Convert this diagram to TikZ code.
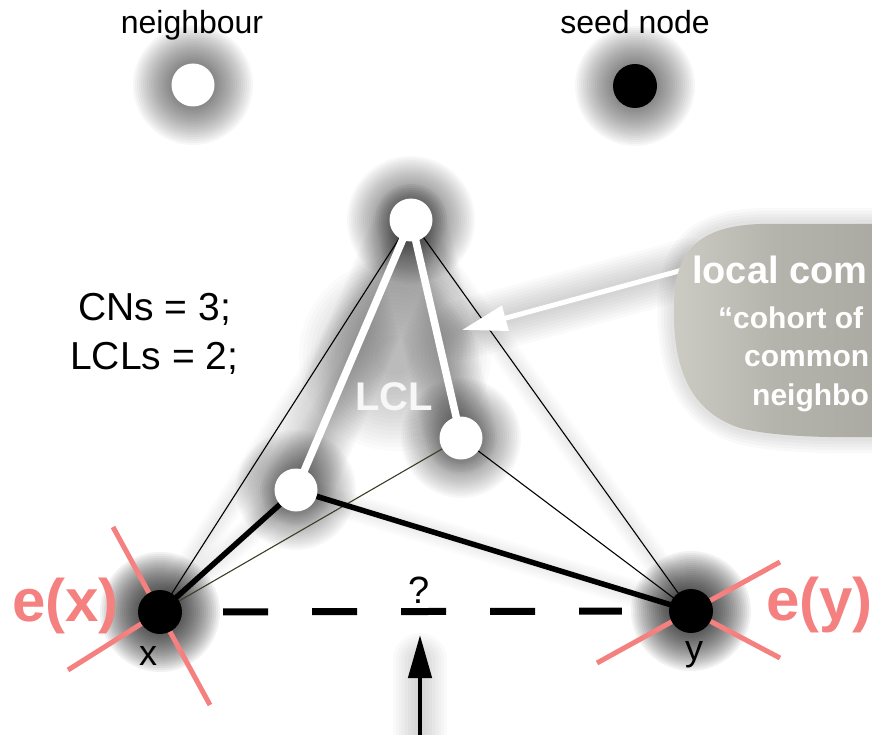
\documentclass[tikz,border=0pt]{standalone}
\usepackage{fontspec}
\setmainfont{Liberation Sans}
\usetikzlibrary{arrows.meta}

\definecolor{crossred}{RGB}{244,128,128}
\definecolor{bubblelight}{RGB}{204,204,196}
\definecolor{bubblemid}{RGB}{180,180,172}
\definecolor{bubbledark}{RGB}{170,170,162}
\definecolor{olive}{RGB}{60,60,40}

\pgfdeclarelayer{glow}
\pgfdeclarelayer{edges}
\pgfsetlayers{glow,edges,main}

\newcommand\setfs[1]{\fontsize{#1}{#1}\selectfont}
% soft round halo: stacked translucent discs
\newcommand\halo[3]{\foreach \r in {#2}{\fill[black, opacity=#3] (#1) circle[radius=\r pt];}}
% soft halo along a straight connector: stacked translucent strokes
\newcommand\lineglow[4]{%
  \foreach \w in {#3}{%
    \draw[black, opacity=#4, line width=\w pt, line cap=round] (#1) -- (#2);}}

\tikzset{
  neighbour/.style={circle, fill=white, minimum size=43pt, inner sep=0pt},
  seed/.style={circle, fill=black, minimum size=44pt, inner sep=0pt},
  thinedge/.style={black, line width=1.1pt},
  thickedge/.style={black, line width=5.5pt},
  lcledge/.style={white, line width=7.5pt},
  crossline/.style={crossred, line width=5pt},
  label/.style={inner sep=0pt, anchor=base},
  bubbletext/.style={white, font=\bfseries\setfs{30}, inner sep=0pt, anchor=base west},
}

\begin{document}
\begin{tikzpicture}[x=1pt, y=-1pt]
\useasboundingbox (0,0) rectangle (872,735);
\clip (0,0) rectangle (872,735);

% legend
\node[neighbour] (legN) at (193,85) {};
\node[seed] (legS) at (635,86) {};
\node[label, font=\setfs{32}] (legNt) at (192,34) {neighbour};
\node[label, font=\setfs{32}] (legSt) at (635,34) {seed node};

% graph nodes
\node[neighbour] (T) at (411,220) {};
\node[neighbour] (M) at (461,438) {};
\node[neighbour] (L) at (296,490) {};
\node[seed] (x) at (160,612) {};
\node[seed] (y) at (691,611) {};

% counts
\node[inner sep=0pt, anchor=base west, font=\setfs{39}] (cns) at (78,320) {CNs = 3;};
\node[inner sep=0pt, anchor=base west, font=\setfs{39}] (lcls) at (70,369) {LCLs = 2;};

% node labels
\node[label, font=\setfs{36}] (xl) at (148,665) {x};
\node[label, font=\setfs{36}] (yl) at (694,660) {y};
\node[label, font=\bfseries\setfs{60}, crossred, anchor=base west] (ex) at (12,621) {e(x)};
\node[label, font=\bfseries\setfs{60}, crossred, anchor=base west] (ey) at (766,620) {e(y)};
\node[label, font=\bfseries\setfs{40}, white!97!black] (lcl) at (394,410) {LCL};
\node[label, font=\setfs{38}] (q) at (419,603) {?};

% free ends of the arrows
\coordinate (upbot) at (420,740);
\coordinate (uptip) at (420,635);
\coordinate (uphead) at (420,660);
\coordinate (wstart) at (690,268);
\coordinate (wtip) at (462,330);
\coordinate (hazec) at (395,355);

% red crosses through the seed nodes
\coordinate (xa1) at (113,527);
\coordinate (xa2) at (210,705);
\coordinate (xb1) at (68,670);
\coordinate (ya1) at (597,663);
\coordinate (ya2) at (780,562);
\coordinate (yb2) at (780,658);

\begin{pgfonlayer}{glow}
  % grey haze inside the local community
  \halo{hazec}{20,24,...,96}{0.014}
  \lineglow{T.center}{L.center}{8,12,...,72}{0.018}
  \lineglow{T.center}{M.center}{8,12,...,72}{0.018}
  \lineglow{T.center}{x.center}{4,8,...,28}{0.01}
  \lineglow{T.center}{y.center}{4,8,...,28}{0.01}
  \lineglow{L.center}{y.center}{4,8,...,28}{0.01}
  \lineglow{L.center}{x.center}{4,8,...,28}{0.01}
  % node halos
  \halo{legN.center}{22,24,...,60}{0.032}
  \halo{legS.center}{22,24,...,60}{0.032}
  \halo{T.center}{22,24,...,64}{0.028}
  \halo{M.center}{22,24,...,60}{0.028}
  \halo{L.center}{22,24,...,60}{0.028}
  \halo{x.center}{22,24,...,60}{0.05}
  \halo{y.center}{22,24,...,60}{0.05}
  % halos of the arrows
  \lineglow{wstart}{wtip}{6,12,...,60}{0.018}
  \lineglow{upbot}{uphead}{6,12,...,54}{0.02}
  % bubble shadow
  \foreach \w in {32,26,20,14,8}{%
    \draw[black, opacity=0.025, line width=\w pt, line join=round]
      (880,224) -- (760,224) .. controls (700,226) and (676,250) .. (674,300)
      .. controls (672,360) and (685,410) .. (740,428)
      .. controls (770,436) and (820,438) .. (880,437);}
\end{pgfonlayer}

\begin{pgfonlayer}{edges}
  % crosses
  \draw[crossline] (xa1) -- (xa2);
  \draw[crossline] (xb1) -- (x.center);
  \draw[crossline] (ya1) -- (ya2);
  \draw[crossline] (y.center) -- (yb2);
  % common-neighbour links
  \draw[thinedge] (x.center) -- (T.center);
  \draw[thinedge] (T.center) -- (y.center);
  \draw[thinedge, olive] (x.center) -- (M.center);
  \draw[thinedge] (M.center) -- (y.center);
  \draw[thickedge] (x.center) -- (L.center);
  \draw[thickedge] (L.center) -- (y.center);
  % local community links
  \draw[lcledge] (T.center) -- (L.center);
  \draw[lcledge] (T.center) -- (M.center);
  % predicted link
  \draw[black, line width=7pt, dash pattern=on 45pt off 44pt,
        shorten <=41pt, shorten >=47pt] (x) -- (y);
  % arrow pointing at the predicted link
  \draw[black, line width=4.5pt, -{Triangle[length=43pt, width=23pt]}] (upbot) -- (uptip);
  % arrow from the annotation bubble
  \draw[white, line width=5pt, -{Triangle[length=45pt, width=25pt]}] (wstart) -- (wtip);
  % annotation bubble
  \shade[left color=bubblelight, right color=bubbledark, middle color=bubblemid]
    (880,224) -- (760,224) .. controls (700,226) and (676,250) .. (674,300)
    .. controls (672,360) and (685,410) .. (740,428)
    .. controls (770,436) and (820,438) .. (880,437) -- cycle;
  \node[bubbletext, font=\bfseries\setfs{38}] (b1) at (692,283) {local com};
  \node[bubbletext] (b2) at (718,328) {“cohort of};
  \node[bubbletext] (b3) at (744,366) {common};
  \node[bubbletext] (b4) at (752,405) {neighbo};
\end{pgfonlayer}
\end{tikzpicture}
\end{document}
